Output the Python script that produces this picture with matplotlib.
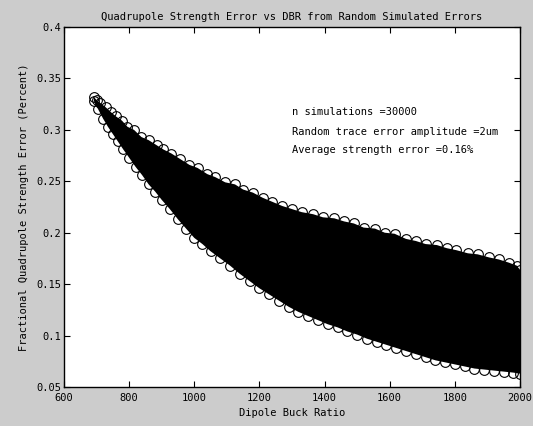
import numpy as np
import matplotlib
matplotlib.use('Agg')
import matplotlib.pyplot as plt

# edge of the point cloud (circle centres)
upper_x = [692, 700, 712, 728, 745, 760, 778, 795, 815, 838, 860, 885, 905, 930, 955,
           985, 1010, 1040, 1065, 1095, 1125, 1150, 1180, 1210, 1240, 1270, 1300, 1330,
           1365, 1395, 1430, 1460, 1490, 1520, 1555, 1585, 1615, 1650, 1680, 1710, 1745,
           1775, 1805, 1840, 1870, 1905, 1935, 1965, 1990, 2000]
upper_y = [.332, .329, .326, .322, .317, .313, .309, .303, .300, .293, .290, .285, .281,
           .277, .272, .266, .263, .257, .254, .249, .247, .242, .239, .234, .230, .226,
           .223, .220, .218, .215, .214, .211, .209, .205, .204, .200, .199, .194, .192,
           .189, .188, .185, .183, .180, .179, .176, .174, .171, .168, .164]

lower_x = [692, 705, 720, 735, 750, 765, 782, 800, 820, 840, 860, 880, 900, 925, 950,
           975, 1000, 1025, 1050, 1080, 1110, 1140, 1170, 1200, 1230, 1260, 1290, 1320,
           1350, 1380, 1410, 1440, 1470, 1500, 1530, 1560, 1590, 1620, 1650, 1680, 1710,
           1740, 1770, 1800, 1830, 1860, 1890, 1920, 1950, 1980, 2000]
lower_y = [.328, .320, .311, .303, .296, .289, .281, .273, .264, .256, .247, .240, .232,
           .223, .213, .204, .195, .189, .182, .175, .168, .160, .153, .146, .140, .134,
           .128, .123, .119, .115, .111, .108, .104, .101, .097, .094, .091, .088, .085,
           .082, .079, .076, .074, .072, .070, .068, .067, .066, .065, .064, .063]

notes = ['n simulations =30000',
         'Random trace error amplitude =2um',
         'Average strength error =0.16%']
note_y = [0.317, 0.298, 0.280]

plt.rcParams['font.family'] = 'DejaVu Sans Mono'
plt.rcParams['font.size'] = 7.5

fig = plt.figure(figsize=(5.33, 4.26), dpi=100, facecolor='#cccccc')
ax = fig.add_axes([0.120, 0.0915, 0.8556, 0.8451])
ax.set_facecolor('white')

# solid interior of the cloud
poly_x = upper_x + lower_x[::-1]
poly_y = upper_y + lower_y[::-1]
ax.fill(poly_x, poly_y, color='black', lw=0)

# open circles along the edges
ax.plot(upper_x, upper_y, 'o', mfc='none', mec='black', ms=7, mew=0.8, ls='none')
ax.plot(lower_x, lower_y, 'o', mfc='none', mec='black', ms=7, mew=0.8, ls='none')

for t, y in zip(notes, note_y):
    ax.text(1300, y, t, fontsize=7.5, va='center')

ax.set_xlim(600, 2000)
ax.set_ylim(0.05, 0.4)
ax.set_xticks(np.arange(600, 2001, 200))
ax.set_yticks([0.05, 0.1, 0.15, 0.2, 0.25, 0.3, 0.35, 0.4])
ax.set_yticklabels(['0.05', '0.1', '0.15', '0.2', '0.25', '0.3', '0.35', '0.4'])
ax.tick_params(direction='in', length=4, top=True, right=True)
ax.tick_params(axis='x', pad=4)
ax.tick_params(axis='y', pad=2)
for s in ax.spines.values():
    s.set_linewidth(1)

ax.set_title('Quadrupole Strength Error vs DBR from Random Simulated Errors', fontsize=7.5, pad=5)
ax.set_xlabel('Dipole Buck Ratio', labelpad=4)
ax.set_ylabel('Fractional Quadrupole Strength Error (Percent)', labelpad=5)

fig.savefig('out.png', dpi=100, facecolor=fig.get_facecolor())
